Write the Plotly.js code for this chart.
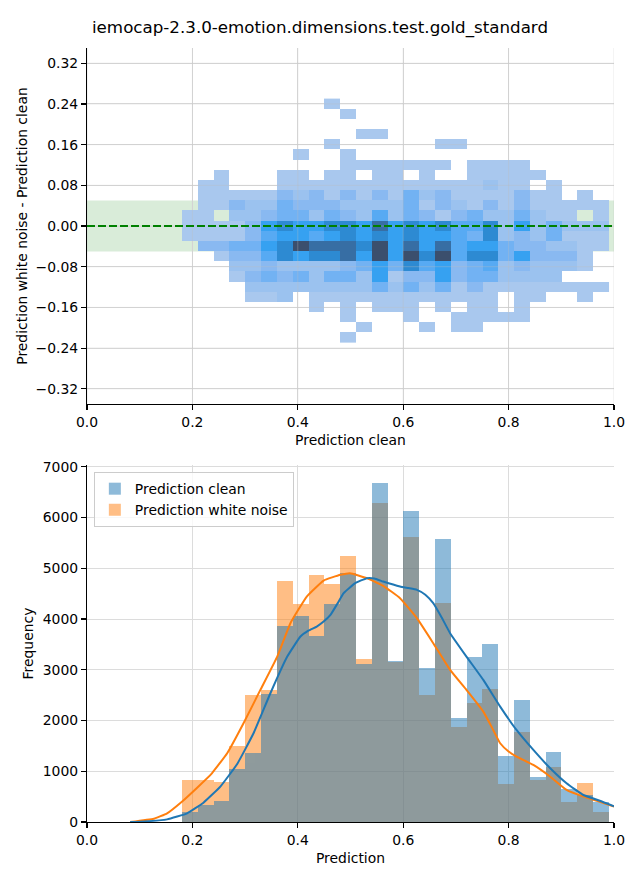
<!DOCTYPE html>
<html>
<head>
<meta charset="utf-8">
<script src="https://cdn.plot.ly/plotly-3.0.1.min.js"></script>
<style>
  html, body { margin: 0; padding: 0; background: #ffffff; }
  #chart { width: 640px; height: 880px; }
</style>
</head>
<body>
<div id="chart"></div>
<script>
// ---------------- DATA ----------------
const chartTitle = "iemocap-2.3.0-emotion.dimensions.test.gold_standard";

// Histogram bins (shared by both panels on the x axis)
const binStart = 0.1803;
const binWidth = 0.03;

// Bottom panel: counts per bin
const predictionClean = [203, 335, 414, 1045, 1367, 2524, 3872, 4050, 3675, 4299, 4910, 3116, 6685, 3170,
  6133, 3037, 5581, 2051, 3254, 3510, 1302, 2406, 887, 1380, 651, 532, 394];
const predictionWhiteNoise = [828, 828, 782, 1499, 2504, 2603, 4753, 4299, 4871, 4693, 5245, 3214, 6291, 3155,
  5620, 2504, 4319, 1873, 2347, 2623, 749, 1775, 828, 1085, 394, 769, 197];

// Bottom panel: KDE curves
const kdeCleanX = [0.082, 0.11, 0.152, 0.19, 0.221, 0.253, 0.285, 0.316, 0.348, 0.38, 0.405, 0.42, 0.436, 0.449, 0.462, 0.475, 0.487,
  0.509, 0.531, 0.545, 0.562, 0.594, 0.61, 0.626, 0.642, 0.657, 0.673, 0.689, 0.72, 0.752, 0.784, 0.815, 0.847, 0.879, 0.91, 0.942, 0.973, 1.0];
const kdeCleanY = [0, 12, 52, 171, 381, 697, 1144, 1748, 2537, 3260, 3655, 3770, 3852, 3950, 4082, 4300, 4510,
  4707, 4805, 4800, 4739, 4641, 4610, 4575, 4480, 4312, 4030, 3721, 3260, 2800, 2274, 1814, 1420, 1059, 763, 532, 420, 310];
const kdeNoiseX = [0.082, 0.127, 0.152, 0.18, 0.209, 0.237, 0.266, 0.297, 0.329, 0.361, 0.386, 0.417, 0.449, 0.481,
  0.499, 0.531, 0.562, 0.594, 0.626, 0.657, 0.689, 0.72, 0.752, 0.768, 0.784, 0.8, 0.815, 0.847, 0.879, 0.91, 0.942, 0.973, 1.0];
const kdeNoiseY = [0, 65, 171, 400, 677, 960, 1355, 1946, 2603, 3260, 3918, 4443, 4759, 4871,
  4904, 4805, 4654, 4411, 4017, 3524, 2997, 2603, 2175, 1870, 1552, 1390, 1288, 1124, 893, 631, 499, 400, 302];

// Top panel: 2D histogram of (prediction clean, difference); relative count levels, rows from top to bottom
const diffRowTop = 0.2505;
const diffRowHeight = 0.02;
const diffCounts = [
  [0,0,0,0,0,0,0,0,0,1,0,0,0,0,0,0,0,0,0,0,0,0,0,0,0,0,0],
  [0,0,0,0,0,0,0,0,0,0,1,0,0,0,0,0,0,0,0,0,0,0,0,0,0,0,0],
  [0,0,0,0,0,0,0,0,0,0,0,0,0,0,0,0,0,0,0,0,0,0,0,0,0,0,0],
  [0,0,0,0,0,0,0,0,0,0,0,1,1,0,0,0,0,0,0,0,0,0,0,0,0,0,0],
  [0,0,0,0,0,0,0,0,0,1,0,0,0,0,0,0,1,1,0,0,0,0,0,0,0,0,0],
  [0,0,0,0,0,0,0,1,0,0,1,0,0,0,0,0,0,0,0,0,0,0,0,0,0,0,0],
  [0,0,0,0,0,0,0,0,0,0,1,1,1,1,1,1,1,0,1,1,1,1,0,0,0,0,0],
  [0,0,1,0,0,0,1,1,0,1,1,0,1,1,0,1,0,0,1,1,1,1,1,0,0,0,0],
  [0,1,1,0,0,0,1,1,1,1,1,1,1,1,1,1,1,1,1,2,1,1,0,1,0,0,0],
  [0,1,1,1,1,1,3,2,3,1,3,1,3,1,4,2,3,1,1,1,1,3,1,1,0,1,0],
  [0,1,1,3,2,2,4,3,3,3,2,2,2,2,4,1,3,2,1,3,1,3,1,1,1,1,1],
  [1,1,0,2,2,3,4,4,2,4,3,2,5,2,4,3,1,3,4,2,2,4,2,1,1,0,1],
  [1,1,1,1,3,6,7,6,6,7,7,6,8,6,7,6,7,5,5,7,2,6,2,4,2,2,2],
  [1,1,1,1,3,5,6,6,5,6,7,6,7,6,7,6,6,5,4,7,2,3,2,4,1,1,1],
  [0,3,3,4,4,6,7,9,8,8,8,7,9,6,8,6,8,5,6,6,4,3,3,2,2,1,1],
  [0,0,1,3,3,5,7,6,7,7,8,6,9,6,9,7,9,5,7,7,4,6,3,3,3,1,0],
  [0,0,0,2,2,3,2,2,2,2,3,4,6,4,7,5,6,3,4,5,2,3,2,2,2,1,0],
  [0,0,0,1,3,4,3,4,2,4,4,2,6,1,3,3,6,3,4,4,2,2,2,2,0,0,0],
  [0,0,0,0,2,2,2,2,2,2,2,2,4,2,4,2,4,1,3,1,1,1,1,1,1,1,1],
  [0,0,0,0,1,1,2,0,1,1,1,1,1,1,1,1,1,1,1,1,0,1,1,0,0,1,0],
  [0,0,0,0,0,0,0,0,1,0,1,0,1,1,1,0,1,0,1,1,0,1,0,0,0,0,0],
  [0,0,0,0,0,0,0,0,0,0,1,0,0,0,1,0,0,1,1,1,1,1,0,0,0,0,0],
  [0,0,0,0,0,0,0,0,0,0,0,1,0,0,0,1,0,1,1,0,0,0,0,0,0,0,0],
  [0,0,0,0,0,0,0,0,0,0,1,0,0,0,0,0,0,0,0,0,0,0,0,0,0,0,0]
];
const toleranceBand = 0.05;

// Tick labels
const xTicks = [0, 0.2, 0.4, 0.6, 0.8, 1.0];
const diffTicks = [-0.32, -0.24, -0.16, -0.08, 0, 0.08, 0.16, 0.24, 0.32];
const diffTickText = ["\u22120.32", "\u22120.24", "\u22120.16", "\u22120.08", "0.00", "0.08", "0.16", "0.24", "0.32"];
const freqTicks = [0, 1000, 2000, 3000, 4000, 5000, 6000, 7000];

// ---------------- BUILD ----------------
const nBins = predictionClean.length;
const binCenters = Array.from({length: nBins}, (_, i) => binStart + (i + 0.5) * binWidth);
const rowCenters = diffCounts.map((_, r) => diffRowTop - (r + 0.5) * diffRowHeight);
// ascending order for the heatmap
const yAsc = rowCenters.slice().reverse();
const zAsc = diffCounts.slice().reverse().map(row => row.map(v => v > 0 ? v : null));

const blueColor = "#1f77b4", orangeColor = "#ff7f0e";
const font = "DejaVu Sans, Liberation Sans, sans-serif";

const traces = [
  {
    type: "heatmap", x: binCenters, y: yAsc, z: zAsc, xaxis: "x", yaxis: "y",
    zmin: 1, zmax: 9, showscale: false, hoverinfo: "skip", xgap: 0, ygap: 0, showlegend: false,
    colorscale: [
      [0.0, "#a9c8ee"], [0.125, "#9bc2ef"], [0.25, "#89b9f1"], [0.375, "#72b2f3"],
      [0.5, "#57aaf3"], [0.625, "#36a1f1"], [0.75, "#2d8ad2"], [0.875, "#376ea4"], [1.0, "#3b4f6d"]
    ]
  },
  {
    type: "bar", name: "Prediction white noise", x: binCenters, y: predictionWhiteNoise, width: binWidth,
    xaxis: "x2", yaxis: "y2", marker: {color: orangeColor, line: {width: 0}}, opacity: 0.5,
    legendrank: 2, hoverinfo: "skip"
  },
  {
    type: "bar", name: "Prediction clean", x: binCenters, y: predictionClean, width: binWidth,
    xaxis: "x2", yaxis: "y2", marker: {color: blueColor, line: {width: 0}}, opacity: 0.5,
    legendrank: 1, hoverinfo: "skip"
  },
  {
    type: "scatter", mode: "lines", x: kdeNoiseX, y: kdeNoiseY, xaxis: "x2", yaxis: "y2",
    line: {color: orangeColor, width: 2, shape: "spline", smoothing: 0.35}, showlegend: false, hoverinfo: "skip"
  },
  {
    type: "scatter", mode: "lines", x: kdeCleanX, y: kdeCleanY, xaxis: "x2", yaxis: "y2",
    line: {color: blueColor, width: 2, shape: "spline", smoothing: 0.35}, showlegend: false, hoverinfo: "skip"
  }
];

const axisCommon = {
  showline: true, linecolor: "#000", linewidth: 1.1, mirror: false,
  ticks: "outside", ticklen: 5, tickwidth: 1.1, tickcolor: "#000",
  showgrid: true, gridcolor: "#dcdcdc", gridwidth: 1, zeroline: false,
  tickfont: {family: font, size: 13.9, color: "#000"}
};

// faint grid lines that show through the 2D histogram cells, as in the reference
const gridOverlay = [];
xTicks.forEach(v => gridOverlay.push({
  type: "line", xref: "x", yref: "y domain", x0: v, x1: v, y0: 0, y1: 1,
  line: {color: "rgba(190,190,190,0.35)", width: 1}, layer: "above"
}));
diffTicks.forEach(v => gridOverlay.push({
  type: "line", xref: "x domain", yref: "y", x0: 0, x1: 1, y0: v, y1: v,
  line: {color: "rgba(190,190,190,0.35)", width: 1}, layer: "above"
}));

const layout = {
  width: 640, height: 880,
  margin: {l: 87, r: 26, t: 48, b: 58},
  paper_bgcolor: "#ffffff", plot_bgcolor: "#ffffff",
  font: {family: font, size: 13.9, color: "#000"},
  title: {
    text: chartTitle, x: 0.5, xanchor: "center", xref: "container",
    y: 1 - 27 / 880, yanchor: "middle", yref: "container",
    font: {family: font, size: 16.7, color: "#000"}
  },
  showlegend: true,
  barmode: "overlay", bargap: 0,
  xaxis: Object.assign({}, axisCommon, {
    domain: [0, 1], anchor: "y", range: [0, 1], tickvals: xTicks, tickformat: ".1f",
    title: {text: "Prediction clean", standoff: 6, font: {family: font, size: 13.9, color: "#000"}}
  }),
  yaxis: Object.assign({}, axisCommon, {
    domain: [0.540, 1], anchor: "x", range: [-0.35, 0.35], tickvals: diffTicks, ticktext: diffTickText,
    title: {text: "Prediction white noise - Prediction clean", standoff: 4, font: {family: font, size: 13.9, color: "#000"}}
  }),
  xaxis2: Object.assign({}, axisCommon, {
    domain: [0, 1], anchor: "y2", range: [0, 1], tickvals: xTicks, tickformat: ".1f",
    title: {text: "Prediction", standoff: 6, font: {family: font, size: 13.9, color: "#000"}}
  }),
  yaxis2: Object.assign({}, axisCommon, {
    domain: [0, 0.4612], anchor: "x2", range: [0, 7035], tickvals: freqTicks, tickformat: "d",
    title: {text: "Frequency", standoff: 5, font: {family: font, size: 13.9, color: "#000"}}
  }),
  legend: {
    x: 0.013, y: 0.452, xanchor: "left", yanchor: "top", xref: "paper", yref: "paper",
    bgcolor: "rgba(255,255,255,0.8)", bordercolor: "#cccccc", borderwidth: 1,
    font: {family: font, size: 13.9, color: "#000"}, tracegroupgap: 0, itemwidth: 30
  },
  shapes: [
    {
      type: "rect", xref: "x domain", yref: "y", x0: 0, x1: 1, y0: -toleranceBand, y1: toleranceBand,
      fillcolor: "rgba(0,128,0,0.15)", line: {width: 0}, layer: "below"
    }
  ].concat(gridOverlay).concat([
    {
      type: "line", xref: "x domain", yref: "y", x0: 0, x1: 1, y0: 0, y1: 0,
      line: {color: "#008000", width: 2, dash: "8px,3px"}, layer: "above"
    }
  ])
};

Plotly.newPlot("chart", traces, layout, {displayModeBar: false, staticPlot: true});
</script>
</body>
</html>
